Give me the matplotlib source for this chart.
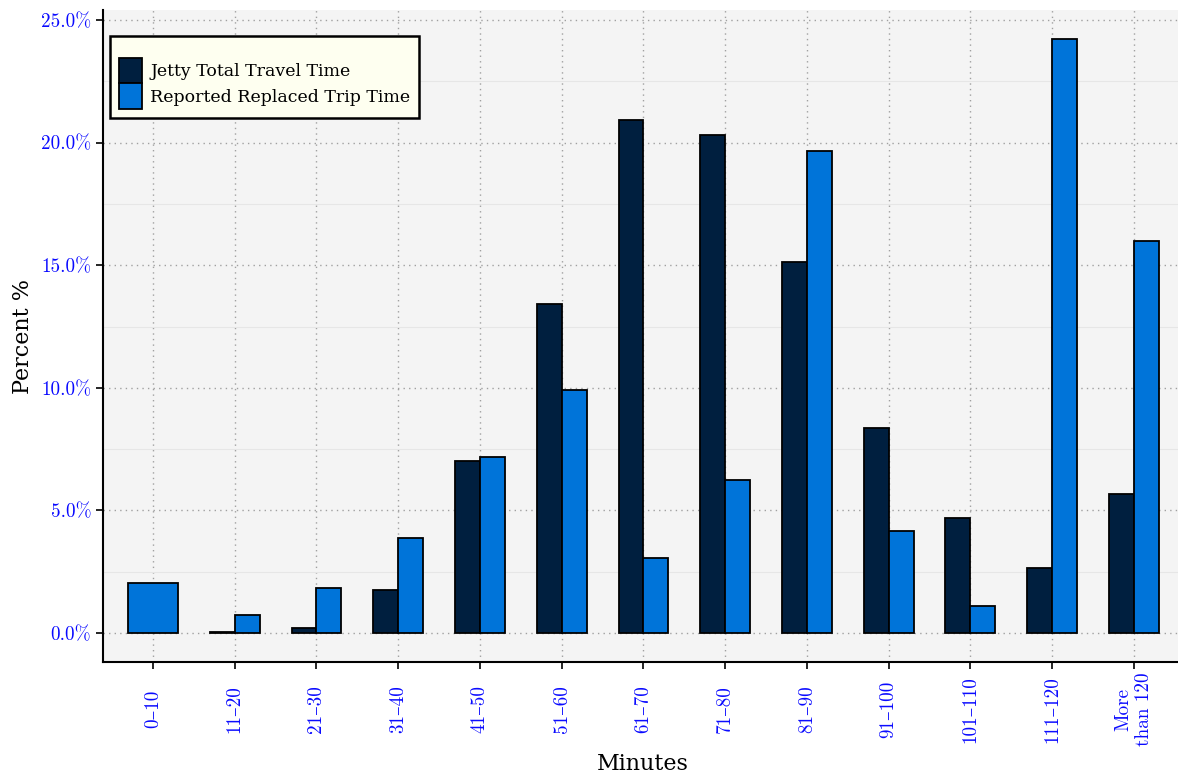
import matplotlib
matplotlib.use("Agg")
import matplotlib.pyplot as plt
import numpy as np
from matplotlib.ticker import MultipleLocator, FuncFormatter
from matplotlib.patches import Patch

categories = ["0\u201310", "11\u201320", "21\u201330", "31\u201340", "41\u201350", "51\u201360",
              "61\u201370", "71\u201380", "81\u201390", "91\u2013100", "101\u2013110",
              "111\u2013120", "More\nthan 120"]
jetty = [None, 0.05, 0.2, 1.75, 7.01, 13.42, 20.92, 20.31, 15.13, 8.36, 4.69, 2.65, 5.67]
reported = [2.04, 0.73, 1.84, 3.87, 7.18, 9.91, 3.06, 6.24, 19.66, 4.16, 1.10, 24.22, 15.99]
series_names = ["Jetty Total Travel Time", "Reported Replaced Trip Time"]
colors = ["#001F3F", "#0074D9"]

W, H = 1178, 773
fig = plt.figure(figsize=(W / 100, H / 100), dpi=100)
ax = fig.add_axes([103 / W, (H - 662) / H, (W - 103) / W, (662 - 10) / H])
ax.set_facecolor("#F4F4F4")

bw = 0.305
x = np.arange(len(categories))
for i in range(len(categories)):
    j, r = jetty[i], reported[i]
    if j is None:
        ax.bar(x[i], r, width=2 * bw, color=colors[1], edgecolor="black", linewidth=1.3, zorder=3)
    else:
        ax.bar(x[i] - bw / 2, j, width=bw, color=colors[0], edgecolor="black", linewidth=1.3, zorder=3)
        ax.bar(x[i] + bw / 2, r, width=bw, color=colors[1], edgecolor="black", linewidth=1.3, zorder=3)

ax.set_xlim(-0.612, 12.54)
ax.set_ylim(-1.183, 25.41)

ax.yaxis.set_major_locator(MultipleLocator(5))
ax.yaxis.set_minor_locator(MultipleLocator(2.5))
ax.yaxis.set_major_formatter(FuncFormatter(lambda v, p: f"{v:.1f}%"))
ax.set_xticks(x)
ax.set_xticklabels(categories, rotation=90, linespacing=1.2, va="center", ha="center")

ax.grid(which="major", axis="both", linestyle=(0, (1, 3)), color="#A0A0A0", linewidth=1.0, zorder=0)
ax.grid(which="minor", axis="y", linestyle="-", color="#E6E6E6", linewidth=0.8, zorder=0)
ax.tick_params(axis="y", which="minor", length=0)
ax.tick_params(axis="both", which="major", direction="out", length=5, width=1.2, colors="black",
               labelcolor="#0A0AFF")
ax.tick_params(axis="x", which="major", pad=29)
for lab in ax.get_xticklabels() + ax.get_yticklabels():
    lab.set_family(["cmr10", "DejaVu Serif"])
    lab.set_fontsize(13.8)

for s in ["top", "right"]:
    ax.spines[s].set_visible(False)
for s in ["left", "bottom"]:
    ax.spines[s].set_linewidth(1.5)

ax.set_xlabel("Minutes", family="DejaVu Serif", fontsize=16, labelpad=4)
ax.set_ylabel("Percent %", family="DejaVu Serif", fontsize=16, labelpad=5)
ax.xaxis.set_label_coords(0.502, -0.14)

handles = [Patch(facecolor=colors[k], edgecolor="black", linewidth=1.3) for k in range(2)]
leg = ax.legend(handles, series_names, loc="upper left", bbox_to_anchor=(0.0065, 0.96),
                prop={"family": "DejaVu Serif", "size": 12.5}, frameon=True, fancybox=False,
                edgecolor="black", facecolor="#FEFFF0", framealpha=1, handlelength=1.32,
                handleheight=1.9, labelspacing=0.0, handletextpad=0.5, borderpad=0.5,
                borderaxespad=0, title=" ", title_fontsize=9)
leg.get_frame().set_linewidth(1.8)
leg.set_zorder(5)

fig.savefig("out.png", dpi=100)
